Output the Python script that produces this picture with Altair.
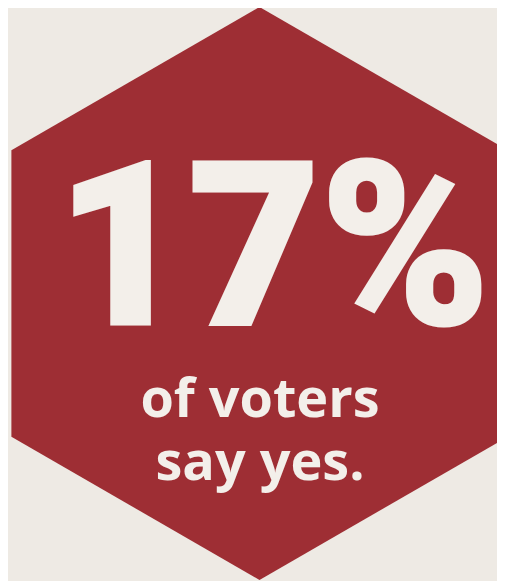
import altair as alt
import pandas as pd

# Data
share_value = [17]
caption_lines = ["of voters", "say yes."]

df_value = pd.DataFrame({"value": share_value})
df_lines = pd.DataFrame({"line": caption_lines, "row": [0, 1]})

BG = "#eeeae4"
RED = "#9e2e34"
CREAM = "#f3efea"

# regular hexagon (pointy top) as a custom symbol path in unit coords
hex_path = "M0,-1L0.866,-0.5L0.866,0.5L0,1L-0.866,0.5L-0.866,-0.5Z"
R = 286.5
size = (2 * R) ** 2

hexagon = alt.Chart(df_value).mark_point(
    shape=hex_path, filled=True, fill=RED, opacity=1, size=size, strokeWidth=0
).encode(x=alt.value(251.5), y=alt.value(285.5))

big = alt.Chart(df_value).transform_calculate(
    label="format(datum.value, 'd') + '%'"
).mark_text(
    font="Roboto", fontWeight=900, fontSize=228,
    color=CREAM, stroke=CREAM, strokeWidth=3,
    align="center", baseline="alphabetic"
).encode(x=alt.value(265), y=alt.value(316), text="label:N")

caption = alt.Chart(df_lines).mark_text(
    font="Open Sans", fontWeight="bold", fontSize=54,
    color=CREAM, align="center", baseline="alphabetic"
).encode(
    x=alt.value(252),
    y=alt.Y("row:Q", scale=alt.Scale(domain=[0, 1], range=[409, 472]), axis=None),
    text="line:N",
)

chart = alt.layer(hexagon, big, caption).properties(
    width=489, height=573, background=BG, padding=0,
    autosize=alt.AutoSizeParams(type="none"),
).configure_view(stroke=None)

chart.save("out.html", embed_options={"renderer": "svg", "actions": False})
